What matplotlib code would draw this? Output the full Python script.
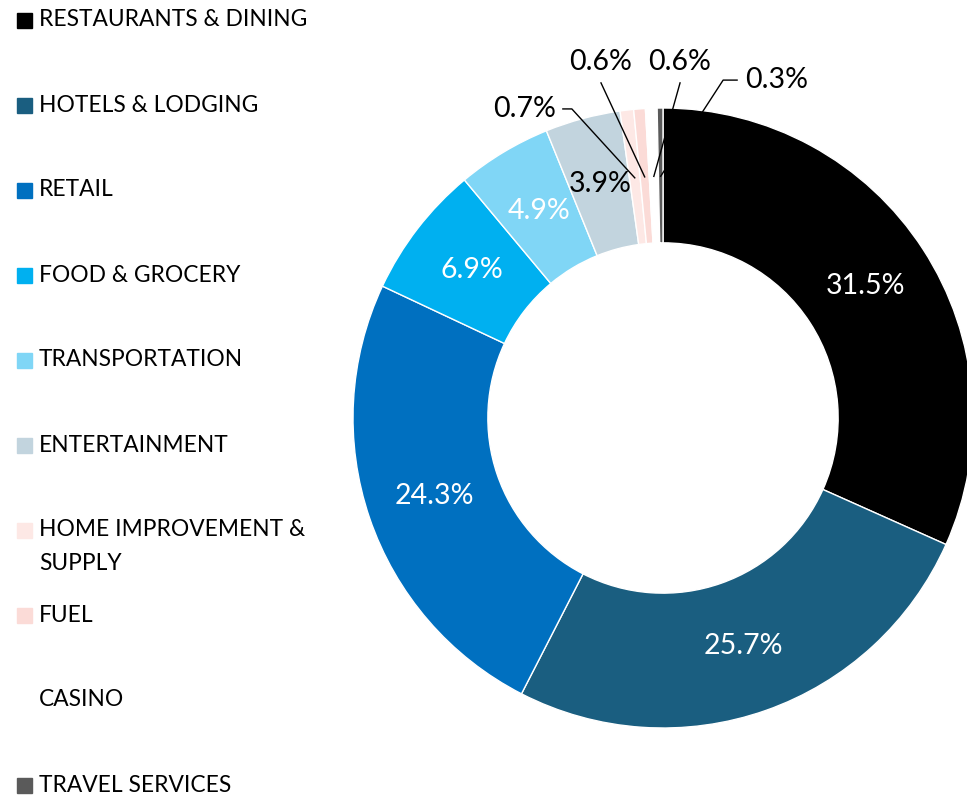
import matplotlib.pyplot as plt
import numpy as np
from matplotlib.patches import Rectangle

# spending share by merchant category
categories = ['RESTAURANTS & DINING', 'HOTELS & LODGING', 'RETAIL', 'FOOD & GROCERY',
              'TRANSPORTATION', 'ENTERTAINMENT', 'HOME IMPROVEMENT &\nSUPPLY', 'FUEL',
              'CASINO', 'TRAVEL SERVICES']
shares = [31.5, 25.7, 24.3, 6.9, 4.9, 3.9, 0.7, 0.6, 0.6, 0.3]
colors = ['#000000', '#1a5e80', '#0070c0', '#00b0f0', '#80d6f6', '#c2d4de',
          '#fde8e5', '#fbdbd7', '#ffffff', '#5a5a5a']
label_colors = ['white', 'white', 'white', 'white', 'white', 'black',
                'black', 'black', 'black', 'black']

plt.rcParams['font.family'] = ['Lato', 'DejaVu Sans']

W, H = 967, 795
fig = plt.figure(figsize=(W / 100, H / 100), dpi=100)

# donut centre (663, 418) px, radius 310 px
cx, cy, R = 663, 418, 310
ax = fig.add_axes([(cx - R) / W, (H - cy - R) / H, 2 * R / W, 2 * R / H])
wedges, _ = ax.pie(shares, colors=colors, startangle=90, counterclock=False,
                   wedgeprops=dict(width=0.435, edgecolor='white', linewidth=1))
ax.set_xlim(-1, 1)
ax.set_ylim(-1, 1)
ax.set_aspect('equal')
ax.axis('off')

total = sum(shares)
cum = np.cumsum([0] + shares[:-1])
mid = 90 - (cum + np.array(shares) / 2) / total * 360
mid_rad = np.deg2rad(mid)

# big slices: labels inside the ring
for i in range(6):
    r = 0.78
    ax.text(r * np.cos(mid_rad[i]), r * np.sin(mid_rad[i]), f'{shares[i]}%',
            ha='center', va='center', fontsize=20.5, color=label_colors[i])

# small slices: labels outside with leader lines
# (text x, text y, ha, line start x, elbow x or None)
outside = {
    6: (-0.345, 0.997, 'right', -0.294, -0.323),
    7: (-0.203, 1.148, 'center', -0.200, None),
    8: (0.052, 1.148, 'center', 0.055, None),
    9: (0.265, 1.090, 'left', 0.194, 0.239),
}
for i, (tx, ty, ha, lx, ex) in outside.items():
    ax.text(tx, ty, f'{shares[i]}%', ha=ha, va='center', fontsize=20.5,
            color='black', clip_on=False)
    ax_, ay_ = 0.78 * np.cos(mid_rad[i]), 0.78 * np.sin(mid_rad[i])
    ly = ty - 0.067 if ex is None else ty
    xs = [ax_, lx] + ([ex] if ex is not None else [])
    ys = [ay_, ly] + ([ly] if ex is not None else [])
    ax.plot(xs, ys, color='black', lw=1, clip_on=False)

# legend on the left
ys_leg = [20, 105, 190, 275, 360, 445, 530, 615, 700, 785]
for name, col, yc in zip(categories, colors, ys_leg):
    if col != '#ffffff':
        fig.patches.append(Rectangle((17 / W, (H - yc - 7.5) / H), 15 / W, 15 / H,
                                     transform=fig.transFigure, color=col))
    fig.text(39 / W, (H - yc) / H, name.split('\n')[0], ha='left', va='center',
             fontsize=16.4, color='black')
    if '\n' in name:
        fig.text(39 / W, (H - yc - 33) / H, name.split('\n')[1], ha='left',
                 va='center', fontsize=16.4, color='black')

fig.savefig('out.png', dpi=100)
